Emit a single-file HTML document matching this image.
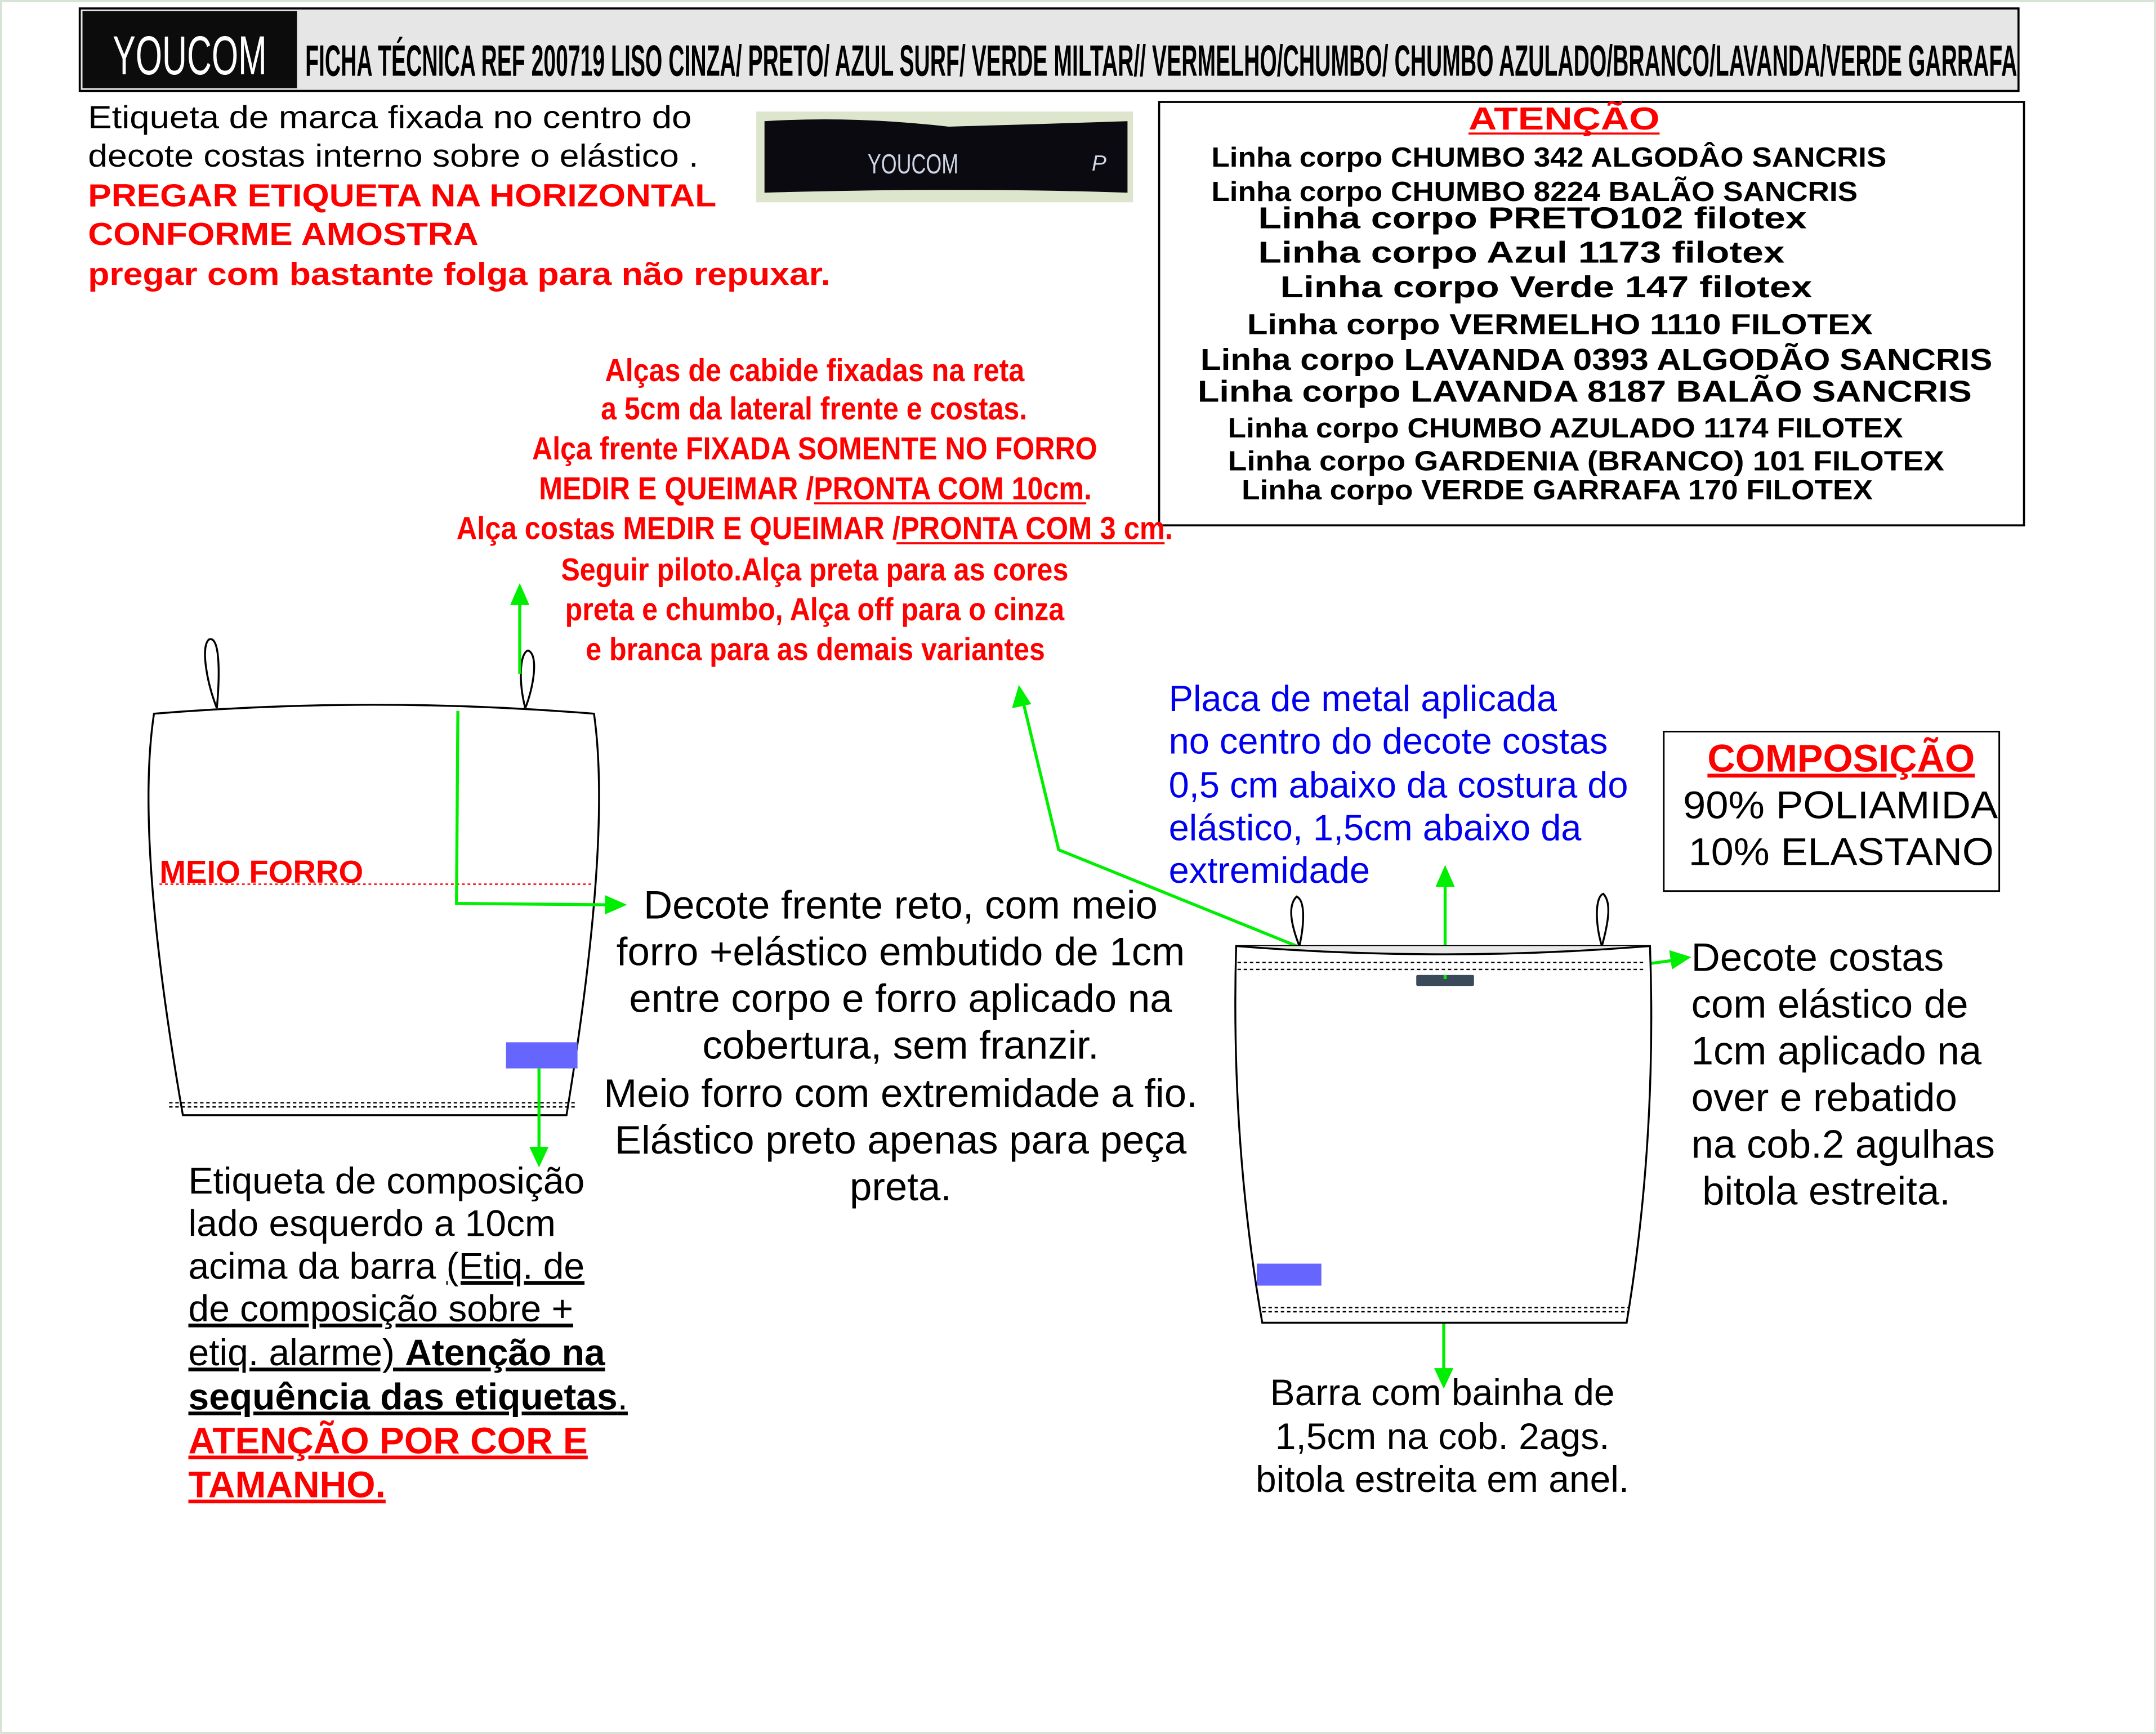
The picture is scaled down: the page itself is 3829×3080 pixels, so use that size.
<!DOCTYPE html>
<html><head><meta charset="utf-8"><style>
html,body{margin:0;padding:0;background:#fff}
svg{display:block}
text{font-family:"Liberation Sans",sans-serif}
</style></head><body>
<svg width="3829" height="3080" viewBox="0 0 1568 1261" xmlns="http://www.w3.org/2000/svg">
<rect x="0" y="0" width="1568" height="1261" fill="#fff"/>
<rect x="0.5" y="0.5" width="1567" height="1260" fill="none" stroke="#d6e3d6" stroke-width="2"/>
<!-- header -->
<rect x="58" y="6" width="1410" height="60" fill="#e6e6e6" stroke="#000" stroke-width="1.5"/>
<rect x="60" y="8" width="156" height="56" fill="#0c0c0c"/>
<text x="82" y="54" font-size="40" fill="#fff" textLength="112" lengthAdjust="spacingAndGlyphs">YOUCOM</text>
<text x="222" y="55" font-size="32" font-weight="bold" fill="#000" textLength="1245" lengthAdjust="spacingAndGlyphs">FICHA TÉCNICA REF 200719 LISO CINZA/ PRETO/ AZUL SURF/ VERDE MILTAR// VERMELHO/CHUMBO/ CHUMBO AZULADO/BRANCO/LAVANDA/VERDE GARRAFA</text>
<!-- top left text -->
<text x="64" y="93" font-size="23" textLength="439" lengthAdjust="spacingAndGlyphs">Etiqueta de marca  fixada no centro do</text>
<text x="64" y="121" font-size="23" textLength="444" lengthAdjust="spacingAndGlyphs">decote costas interno sobre o elástico .</text>
<g fill="#f00" font-weight="bold" font-size="23">
<text x="64" y="150" textLength="457" lengthAdjust="spacingAndGlyphs">PREGAR ETIQUETA NA HORIZONTAL</text>
<text x="64" y="178" textLength="284" lengthAdjust="spacingAndGlyphs">CONFORME AMOSTRA</text>
<text x="64" y="207" textLength="540" lengthAdjust="spacingAndGlyphs">pregar com bastante folga para não repuxar.</text>
</g>
<!-- label photo -->
<rect x="550" y="81" width="274" height="66" fill="#dde6cc"/>
<path d="M556 88 Q620 84 690 92 Q760 90 820 88 L820 140 Q700 136 556 140 Z" fill="#0a0a10"/>
<text x="631" y="126" font-size="20" fill="#cfd6e6" textLength="66" lengthAdjust="spacingAndGlyphs">YOUCOM</text>
<text x="794" y="124" font-size="16" fill="#cfd6e6" font-style="italic">P</text>
<!-- atenção box -->
<rect x="843" y="74" width="629" height="308" fill="none" stroke="#000" stroke-width="1.5"/>
<text x="1068" y="94" font-size="23" font-weight="bold" fill="#f00" textLength="139" lengthAdjust="spacingAndGlyphs">ATENÇÃO</text>
<line x1="1068" y1="97" x2="1207" y2="97" stroke="#f00" stroke-width="1.5"/>
<g font-weight="bold" font-size="20" fill="#000">
<text x="881" y="121" textLength="491" lengthAdjust="spacingAndGlyphs">Linha corpo CHUMBO 342 ALGODÂO SANCRIS</text>
<text x="881" y="146" textLength="470" lengthAdjust="spacingAndGlyphs">Linha corpo CHUMBO 8224 BALÃO SANCRIS</text>
<text x="915" y="166" font-size="22" textLength="399" lengthAdjust="spacingAndGlyphs">Linha corpo PRETO102 filotex</text>
<text x="915" y="191" font-size="22" textLength="383" lengthAdjust="spacingAndGlyphs">Linha corpo Azul 1173 filotex</text>
<text x="931" y="216" font-size="22" textLength="387" lengthAdjust="spacingAndGlyphs">Linha corpo Verde 147 filotex</text>
<text x="907" y="243" font-size="21" textLength="455" lengthAdjust="spacingAndGlyphs">Linha corpo VERMELHO 1110 FILOTEX</text>
<text x="873" y="269" font-size="22" textLength="576" lengthAdjust="spacingAndGlyphs">Linha corpo LAVANDA 0393 ALGODÃO SANCRIS</text>
<text x="871" y="292" font-size="22" textLength="563" lengthAdjust="spacingAndGlyphs">Linha corpo LAVANDA 8187 BALÃO SANCRIS</text>
<text x="893" y="318" textLength="491" lengthAdjust="spacingAndGlyphs">Linha corpo CHUMBO AZULADO 1174 FILOTEX</text>
<text x="893" y="342" textLength="521" lengthAdjust="spacingAndGlyphs">Linha corpo GARDENIA  (BRANCO)  101  FILOTEX</text>
<text x="903" y="363" textLength="459" lengthAdjust="spacingAndGlyphs">Linha corpo VERDE GARRAFA 170 FILOTEX</text>
</g>
<!-- red cabide text -->
<g fill="#f00" font-weight="bold" font-size="23">
<text x="440" y="277" textLength="305" lengthAdjust="spacingAndGlyphs">Alças de cabide fixadas na reta</text>
<text x="437" y="305" textLength="310" lengthAdjust="spacingAndGlyphs">a 5cm da lateral frente e costas.</text>
<text x="387" y="334" textLength="411" lengthAdjust="spacingAndGlyphs">Alça frente FIXADA SOMENTE NO FORRO</text>
<text x="392" y="363" textLength="402" lengthAdjust="spacingAndGlyphs">MEDIR E QUEIMAR /PRONTA COM 10cm.</text>
<text x="332" y="392" textLength="521" lengthAdjust="spacingAndGlyphs">Alça costas MEDIR E QUEIMAR /PRONTA COM  3 cm.</text>
<text x="408" y="422" textLength="369" lengthAdjust="spacingAndGlyphs">Seguir piloto.Alça preta para as cores</text>
<text x="411" y="451" textLength="363" lengthAdjust="spacingAndGlyphs">preta e chumbo, Alça off para o cinza</text>
<text x="426" y="480" textLength="334" lengthAdjust="spacingAndGlyphs">e branca para as demais variantes</text>
</g>
<line x1="592" y1="366" x2="790" y2="366" stroke="#f00" stroke-width="1.5"/>
<line x1="652" y1="395" x2="847" y2="395" stroke="#f00" stroke-width="1.5"/>
<!-- left garment -->
<g fill="none" stroke="#000" stroke-width="1.4">
<path d="M157.7 515 C150 495 146 470 152 465 C160 462 160 490 157.7 515"/>
<path d="M382 515 C377 495 378 475 384 473 C392 476 388 500 382 515"/>
<path d="M112 519 Q272 506 432 519 Q445 610 412 811 L133 811 Q98 610 112 519 Z" fill="#fff"/>
<line x1="123" y1="802" x2="420" y2="802" stroke-dasharray="2.5,2" stroke-width="1"/>
<line x1="123" y1="805" x2="420" y2="805" stroke-dasharray="2.5,2" stroke-width="1"/>
</g>
<line x1="116" y1="643" x2="430" y2="643" stroke="#f00" stroke-width="1" stroke-dasharray="2,2"/>
<text x="116" y="642" font-size="23" font-weight="bold" fill="#f00">MEIO FORRO</text>
<rect x="368" y="758" width="52" height="19" fill="#6666ff"/>
<g stroke="#00ee00" stroke-width="2.2" fill="none">
<polyline points="333,517 332,657 442,658"/>
<line x1="392" y1="777" x2="392" y2="840"/>
<line x1="378" y1="490" x2="378" y2="435"/>
<polyline points="948,690 770,618 744,510"/>
<line x1="1051" y1="712" x2="1051" y2="642"/>
<line x1="1050" y1="962" x2="1050" y2="1000"/>
<line x1="1183" y1="703" x2="1220" y2="698"/>
</g>
<g fill="#00ee00">
<polygon points="456,658 440,651 440,665"/>
<polygon points="392,849 385,834 399,834"/>
<polygon points="378,424 371,440 385,440"/>
<polygon points="741,498 736,515 750,512"/>
<polygon points="1051,629 1044,645 1058,645"/>
<polygon points="1050,1010 1043,995 1057,995"/>
<polygon points="1230,696 1214,691 1216,705"/>
</g>
<!-- right garment -->
<g fill="none" stroke="#000" stroke-width="1.4">
<path d="M945 688 C938 670 937 658 943 652 C950 655 948 675 945 688"/>
<path d="M1165 688 C1170 670 1172 656 1166 650 C1160 652 1160 672 1165 688"/>
<path d="M899 688 L1200 688 Q1205 830 1183 962 L918 962 Q895 830 899 688 Z" fill="#fff"/>
<path d="M899 688 Q1050 700 1200 688" fill="#e8e8e8"/>
<line x1="900" y1="700" x2="1197" y2="700" stroke-dasharray="2.5,2" stroke-width="1"/>
<line x1="900" y1="705" x2="1197" y2="705" stroke-dasharray="2.5,2" stroke-width="1"/>
<line x1="918" y1="951" x2="1185" y2="951" stroke-dasharray="2.5,2" stroke-width="1"/>
<line x1="918" y1="954" x2="1185" y2="954" stroke-dasharray="2.5,2" stroke-width="1"/>
</g>
<rect x="1030" y="709" width="42" height="8" fill="#3b4a5a" rx="1"/>
<rect x="914" y="919" width="47" height="16" fill="#6666ff"/>
<line x1="1051" y1="709" x2="1051" y2="712" stroke="#00ee00" stroke-width="2.2"/>
<!-- middle text -->
<g font-size="29" fill="#000" text-anchor="middle">
<text x="655" y="668">Decote frente reto, com meio</text>
<text x="655" y="702">forro +elástico embutido de 1cm</text>
<text x="655" y="736">entre corpo e forro aplicado na</text>
<text x="655" y="770">cobertura, sem franzir.</text>
<text x="655" y="805">Meio forro com extremidade a fio.</text>
<text x="655" y="839">Elástico preto apenas para peça</text>
<text x="655" y="873">preta.</text>
</g>
<!-- etiqueta composição -->
<g font-size="27" fill="#000">
<text x="137" y="868">Etiqueta de composição</text>
<text x="137" y="899">lado esquerdo a 10cm</text>
<text x="137" y="930">acima da barra <tspan text-decoration="underline">(Etiq. de</tspan></text>
<text x="137" y="961" text-decoration="underline">de composição sobre + </text>
<text x="137" y="993" text-decoration="underline">etiq. alarme) <tspan font-weight="bold">Atenção na </tspan></text>
<text x="137" y="1025" text-decoration="underline"><tspan font-weight="bold">sequência das etiquetas</tspan>.</text>
<text x="137" y="1057" fill="#f00" font-weight="bold" text-decoration="underline">ATENÇÃO POR COR E</text>
<text x="137" y="1089" fill="#f00" font-weight="bold" text-decoration="underline">TAMANHO.</text>
</g>
<!-- blue text -->
<g font-size="26.6" fill="#0000ee">
<text x="850" y="517">Placa de metal aplicada</text>
<text x="850" y="548">no centro do decote costas</text>
<text x="850" y="580">0,5 cm abaixo da costura do</text>
<text x="850" y="611">elástico, 1,5cm abaixo da</text>
<text x="850" y="642">extremidade</text>
</g>
<!-- composição -->
<rect x="1210" y="532" width="244" height="116" fill="none" stroke="#000" stroke-width="1.2"/>
<text x="1339" y="561" font-size="28" font-weight="bold" fill="#f00" text-anchor="middle" text-decoration="underline">COMPOSIÇÃO</text>
<text x="1224" y="595" font-size="28" textLength="229" lengthAdjust="spacingAndGlyphs">90% POLIAMIDA</text>
<text x="1228" y="629" font-size="28" textLength="222" lengthAdjust="spacingAndGlyphs">10% ELASTANO</text>
<!-- decote costas -->
<g font-size="29" fill="#000">
<text x="1230" y="706">Decote costas</text>
<text x="1230" y="740">com  elástico de</text>
<text x="1230" y="774">1cm aplicado na</text>
<text x="1230" y="808">over e rebatido</text>
<text x="1230" y="842">na cob.2 agulhas</text>
<text x="1238" y="876">bitola estreita.</text>
</g>
<!-- barra -->
<g font-size="27" fill="#000" text-anchor="middle">
<text x="1049" y="1022">Barra com bainha de</text>
<text x="1049" y="1054">1,5cm na cob. 2ags.</text>
<text x="1049" y="1085">bitola estreita em anel.</text>
</g>
</svg>
</body></html>
